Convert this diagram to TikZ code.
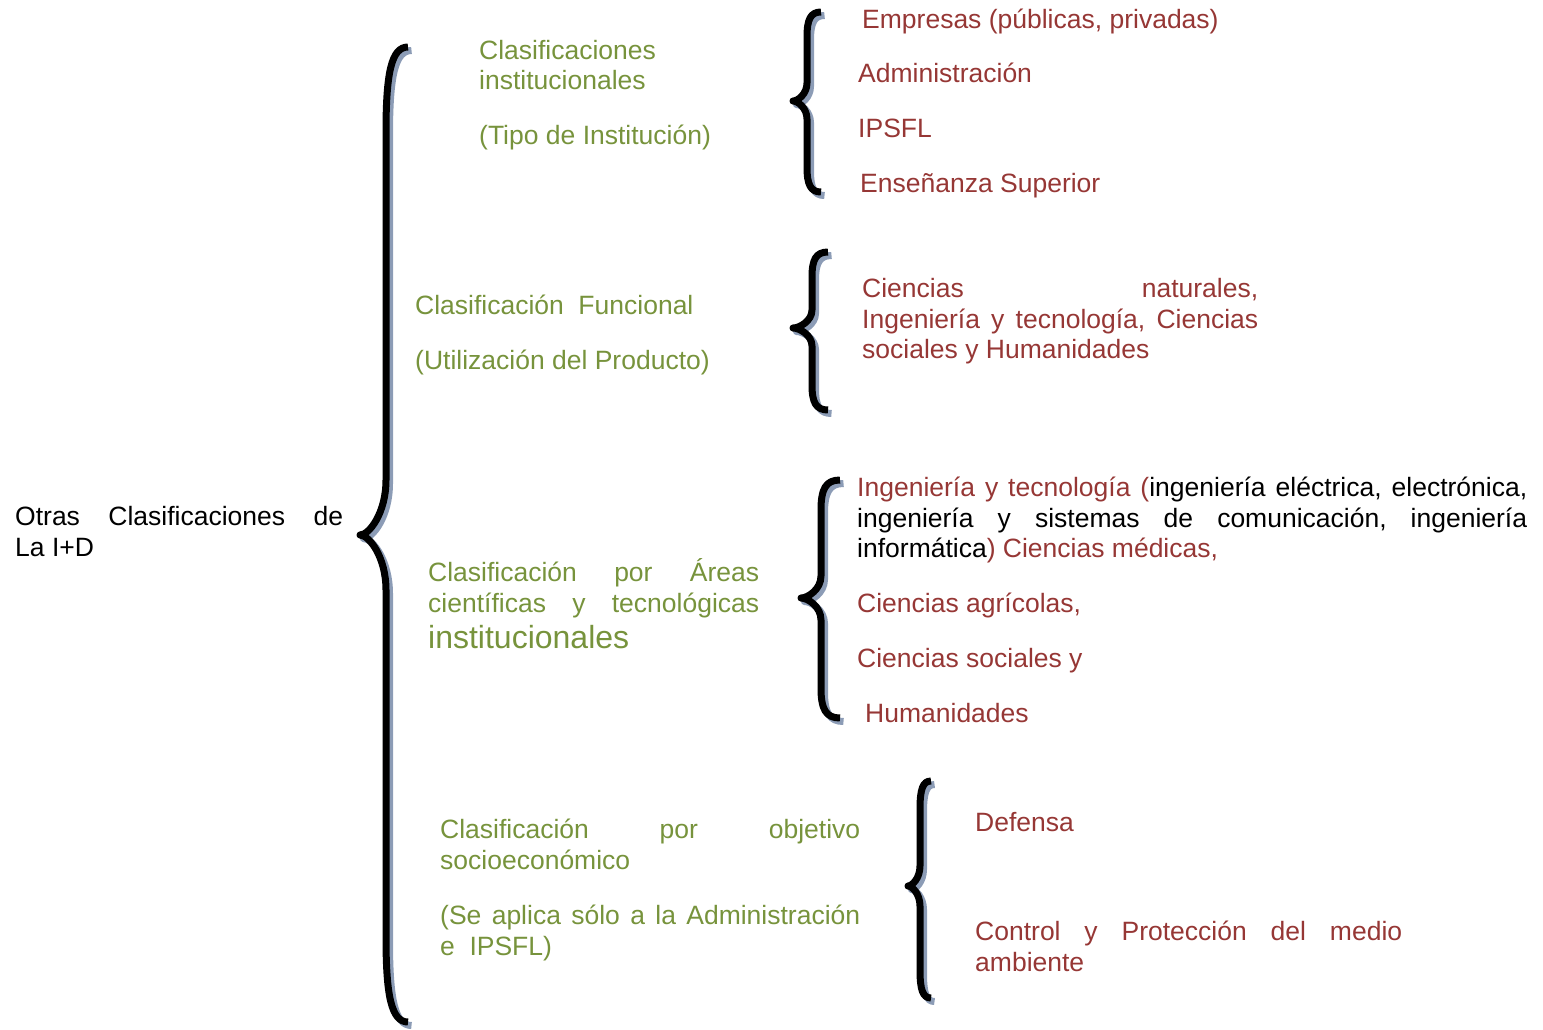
\documentclass[tikz,border=0pt]{standalone}
\usepackage{fontspec}
\setmainfont{Liberation Sans}
\definecolor{grn}{RGB}{119,147,60}
\definecolor{rd}{RGB}{150,55,53}
\definecolor{braceshade}{RGB}{140,156,182}
% curly brace: #1 end x, #2 stem x, #3 tip x, #4 top y, #5 tip y, #6 bottom y, #7 end curl length, #8 tip curl length
\newcommand\curlybrace[8]{%
  \foreach \dx/\dy/\col in {3.5/3.5/braceshade, 0/0/black}{
    \draw[bracestroke, draw=\col, shift={(\dx,\dy)}]
      (#1,#4) .. controls ({#2+0.25*(#1-#2)},#4) and (#2,{#4+0.3*#7}) .. (#2,{#4+#7})
      -- (#2,{#5-#8})
      .. controls (#2,{#5-0.4*#8}) and ({#3+0.35*(#2-#3)},#5) .. (#3,#5)
      .. controls ({#3+0.35*(#2-#3)},#5) and (#2,{#5+0.4*#8}) .. (#2,{#5+#8})
      -- (#2,{#6-#7})
      .. controls (#2,{#6-0.3*#7}) and ({#2+0.25*(#1-#2)},#6) .. (#1,#6);
  }%
}
\tikzset{
  bracestroke/.style={line width=7pt, line join=round},
  txt/.style={anchor=base west, inner sep=0pt, font=\fontsize{26.5}{30}\selectfont},
  gtxt/.style={txt, text=grn},
  rtxt/.style={txt, text=rd},
  btxt/.style={txt, text=black},
}
\begin{document}
\begin{tikzpicture}[x=1pt,y=-1pt]
\useasboundingbox (0,0) rectangle (1543,1029);

% root label
\node[btxt] (root1) at (15,525) {\makebox[328pt][s]{Otras\hfill Clasificaciones\hfill de}};
\node[btxt] (root2) at (15,556) {La I+D};

% braces
\curlybrace{408}{386}{360}{47}{535}{1022}{85}{55}
\curlybrace{821}{807}{793}{12}{101}{192}{25}{18}
\curlybrace{828}{812}{793}{252}{328}{410}{25}{18}
\curlybrace{840}{821}{801}{480}{598}{718}{30}{22}
\curlybrace{931}{920}{908}{781}{886}{998}{28}{20}

% institutional classification
\node[gtxt] (g1a) at (479,59) {Clasificaciones};
\node[gtxt] (g1b) at (479,89) {institucionales};
\node[gtxt] (g1c) at (479,144) {(Tipo de Institución)};
\node[rtxt] (r1a) at (862,28) {Empresas (públicas, privadas)};
\node[rtxt] (r1b) at (858,82) {Administración};
\node[rtxt] (r1c) at (858,137) {IPSFL};
\node[rtxt] (r1d) at (860,192) {Enseñanza Superior};

% functional classification
\node[gtxt] (g2a) at (415,314) {Clasificación\hspace{0.55em}Funcional};
\node[gtxt] (g2b) at (415,369) {(Utilización del Producto)};
\node[rtxt] (r2a) at (862,297) {\makebox[396pt][s]{Ciencias\hfill naturales,}};
\node[rtxt] (r2b) at (862,328) {\makebox[396pt][s]{Ingeniería\hfill y\hfill tecnología,\hfill Ciencias}};
\node[rtxt] (r2c) at (862,358) {sociales y Humanidades};

% scientific and technological areas
\node[gtxt] (g3a) at (428,581) {\makebox[331pt][s]{Clasificación\hfill por\hfill Áreas}};
\node[gtxt] (g3b) at (428,612) {\makebox[331pt][s]{científicas\hfill y\hfill tecnológicas}};
\node[gtxt, font=\fontsize{32}{36}\selectfont] (g3c) at (428,648) {institucionales};
\node[btxt] (r3a) at (857,496) {\makebox[670pt][s]{\textcolor{rd}{Ingeniería\hfill y\hfill tecnología\hfill (}ingeniería\hfill eléctrica,\hfill electrónica,}};
\node[btxt] (r3b) at (857,527) {\makebox[670pt][s]{ingeniería\hfill y\hfill sistemas\hfill de\hfill comunicación,\hfill ingeniería}};
\node[btxt] (r3c) at (857,557) {informática\textcolor{rd}{) Ciencias médicas,}};
\node[rtxt] (r3d) at (857,612) {Ciencias agrícolas,};
\node[rtxt] (r3e) at (857,667) {Ciencias sociales y};
\node[rtxt] (r3f) at (865,722) {Humanidades};

% socio-economic objective
\node[gtxt] (g4a) at (440,838) {\makebox[420pt][s]{Clasificación\hfill por\hfill objetivo}};
\node[gtxt] (g4b) at (440,869) {socioeconómico};
\node[gtxt] (g4c) at (440,924) {\makebox[420pt][s]{(Se\hfill aplica\hfill sólo\hfill a\hfill la\hfill Administración}};
\node[gtxt] (g4d) at (440,955) {e\hspace{0.55em}IPSFL)};
\node[rtxt] (r4a) at (975,831) {Defensa};
\node[rtxt] (r4b) at (975,940) {\makebox[427pt][s]{Control\hfill y\hfill Protección\hfill del\hfill medio}};
\node[rtxt] (r4c) at (975,971) {ambiente};
\end{tikzpicture}
\end{document}
